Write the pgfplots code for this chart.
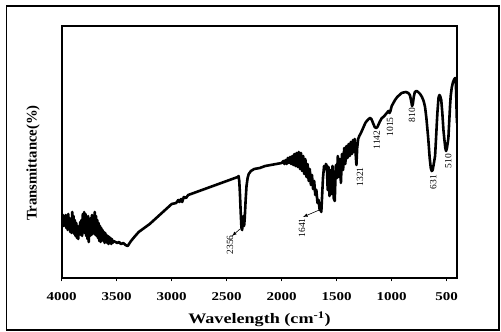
\documentclass[border=0pt]{standalone}
\usepackage{fontspec}
\setmainfont{Liberation Serif}
\newfontfamily\widefont[FakeStretch=1.25]{Liberation Serif}
\usepackage{pgfplots}
\pgfplotsset{compat=1.18}
\usepackage{pgfplotstable}
\pgfplotstableread{
x y
4000 62
3994 56
3988 63
3982 52
3976 60
3970 54
3964 63
3958 50
3952 62
3946 48
3940 64
3934 50
3928 60
3922 46
3916 58
3910 45
3904 66
3898 48
3892 62
3886 44
3880 58
3874 42
3868 55
3862 40
3856 52
3850 39
3844 50
3838 44
3832 56
3826 43
3820 58
3814 42
3808 64
3802 46
3796 66
3790 45
3784 64
3778 42
3772 60
3766 39
3760 62
3754 36
3748 56
3742 42
3736 60
3730 43
3724 63
3718 44
3712 60
3706 46
3700 66
3694 43
3688 62
3682 42
3676 58
3670 40
3664 55
3658 37
3652 52
3646 36
3640 50
3634 40
3628 48
3622 37
3616 46
3610 35
3604 45
3598 36
3592 43
3586 35
3580 42
3574 34
3568 41
3562 35
3556 40
3550 34
3544 39
3538 35
3530 37
3510 36
3495 35
3480 36
3460 34
3440 35
3420 33
3400 32
3370 37
3340 41
3300 46
3250 50
3200 54
3150 59
3100 64
3050 69
3000 74
2960 75
2940 78
2930 76
2915 79
2905 76
2890 81
2870 80
2850 83
2800 85
2750 87
2700 89
2650 91
2600 93
2550 95
2500 97
2450 99
2400 101
2392 102
2386 97
2380 85
2373 66
2366 50
2360 48
2354 55
2348 62
2342 52
2336 60
2328 78
2320 92
2310 100
2300 104
2280 107
2250 109
2200 110
2150 112
2100 113
2050 114
2000 115
1985 117
1975 114
1965 118
1955 114
1945 120
1935 115
1925 121
1915 114
1905 122
1895 113
1885 124
1875 112
1865 125
1855 111
1845 126
1835 109
1825 125
1815 107
1805 122
1795 104
1785 119
1775 101
1765 114
1755 97
1745 109
1735 93
1725 103
1715 89
1705 97
1695 83
1685 88
1675 75
1665 78
1655 68
1646 72
1640 66
1632 84
1625 100
1615 112
1605 109
1598 114
1590 112
1582 88
1575 111
1566 82
1558 108
1548 84
1538 112
1528 80
1518 77
1508 113
1498 100
1490 122
1480 101
1472 119
1462 95
1452 124
1442 108
1432 130
1422 114
1412 132
1402 120
1392 134
1382 122
1372 136
1362 124
1352 138
1344 126
1336 139
1328 124
1321 113
1314 130
1305 139
1295 142
1280 145
1260 150
1240 155
1227 157
1210 159
1197 160
1185 159
1170 155
1155 151
1142 150
1130 151
1110 156
1090 160
1076 161
1060 163
1045 165
1030 167
1020 165
1012 167
1000 172
985 175
970 178
950 181
930 183
910 185
894 185.5
870 186
850 185
835 183
825 178
815 172
808 174
800 181
790 186
775 187
760 186
742 184
725 181
710 177
697 171
685 160
675 148
667 138
655 120
645 110
636 107
628 108
618 114
606 122
598 138
590 155
585 165
575 180
567 183
560 182
550 178
540 165
530 148
521 138
513 130
506 127
498 130
490 136
485 140
478 155
470 172
464 182
455 190
445 195
439 197
430 199
424 200
418 196
414 185
410 165
407 155
}\spectrum
\begin{document}
\begin{tikzpicture}
\path[use as bounding box] (0,0) rectangle (501pt,332pt);
\draw[line width=1.5pt] (6.7pt,2pt) rectangle (499pt,326pt);
\begin{axis}[
  at={(61.7pt,54pt)}, anchor=south west,
  scale only axis, width=395.6pt, height=252pt,
  x dir=reverse, xmin=404, xmax=4000, ymin=0, ymax=252,
  axis line style={line width=1.8pt},
  xtick={500,1000,1500,2000,2500,3000,3500,4000},
  xticklabels={500,1000,1500,2000,2500,3000,3500,4000},
  xtick pos=bottom, tick align=outside, major tick length=3.5pt,
  tick style={line width=1.5pt, black},
  ytick=\empty,
  xticklabel style={font=\widefont\bfseries\fontsize{12}{12}\selectfont, anchor=base, yshift=-18.7pt},
  xlabel={Wavelength (cm\textsuperscript{-1})},
  xlabel style={font=\widefont\bfseries\fontsize{14.5}{14.5}\selectfont, at={(axis description cs:0.5,0)}, anchor=base, yshift=-45.3pt},
  ylabel={Transmittance(\%)},
  ylabel style={font=\bfseries\fontsize{14.7}{14.7}\selectfont, at={(axis description cs:0,0.456)}, anchor=center, xshift=0pt, yshift=28.7pt, rotate=0},
  clip=true,
]
\addplot[black, line width=2.6pt, line join=round] table[x=x,y=y] {\spectrum};
\begin{scope}[font=\fontsize{9.5}{9.5}\selectfont]
\node[rotate=90] at (axis cs:2470,33) {2356};
\node[rotate=90] at (axis cs:1816,50) {1641};
\node[rotate=90] at (axis cs:1288,101) {1321};
\node[rotate=90] at (axis cs:1137,138) {1142};
\node[rotate=90] at (axis cs:1015,151) {1015};
\node[rotate=90] at (axis cs:815,163) {810};
\node[rotate=90] at (axis cs:622,96) {631};
\node[rotate=90] at (axis cs:486,117) {510};
\end{scope}
\draw[-latex, line width=0.6pt] (axis cs:2379,49) -- (axis cs:2452,42);
\draw[-latex, line width=0.6pt] (axis cs:1637,69) -- (axis cs:1807,61);
\end{axis}
\end{tikzpicture}
\end{document}
